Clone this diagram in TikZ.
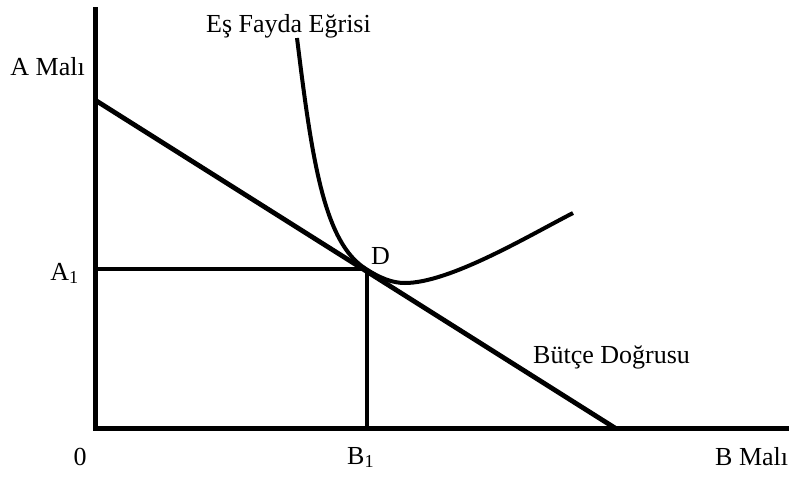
\documentclass[tikz,border=0pt]{standalone}
\usepackage{fontspec}
\setmainfont{Liberation Serif}
\begin{document}
\begin{tikzpicture}[x=1pt,y=-1pt,
  axisline/.style={line width=5pt,line join=miter},
  thick line/.style={line width=4.8pt},
  curveline/.style={line width=4pt},
  lbl/.style={inner sep=0pt,font=\fontsize{26}{30}\selectfont}]
\useasboundingbox (0,0) rectangle (789,477);
\coordinate (Ytop) at (95,7);
\coordinate (O) at (95,428);
\coordinate (Xend) at (789,428);
\coordinate (P) at (95,100);
\coordinate (Q) at (615,428);
\coordinate (D) at (366,269);
\coordinate (A1c) at (95,269);
\coordinate (B1c) at (367,428);
\coordinate (Dv) at (367,269);
\coordinate (C0) at (297,38);
\coordinate (Cmin) at (405,283);
\coordinate (Cend) at (573,213);
% axes
\draw[axisline] (Ytop) -- (O) -- (Xend);
% budget line
\draw[thick line] (P) -- (Q);
% projections
\draw[thick line] (A1c) -- (Dv);
\draw[thick line] (Dv) -- (B1c);
% indifference curve
\draw[curveline] (C0) .. controls (312,160) and (324,243) .. (D)
  .. controls (380,278) and (392,283) .. (Cmin)
  .. controls (450,283) and (530,235) .. (Cend);
% labels
\node[lbl,anchor=base] (lEF) at (288.5,32) {Eş Fayda Eğrisi};
\node[lbl,anchor=base east] (lAM) at (85,75) {A Malı};
\node[lbl,anchor=base east] (lA1) at (79,280) {A\textsubscript{1}};
\node[lbl,anchor=base west] (lD) at (371,264) {D};
\node[lbl,anchor=base] (l0) at (80,465) {0};
\node[lbl,anchor=base west] (lB1) at (347,464) {B\textsubscript{1}};
\node[lbl,anchor=base west] (lBM) at (715,465) {B Malı};
\node[lbl,anchor=base west] (lBD) at (533,363) {Bütçe Doğrusu};
\end{tikzpicture}
\end{document}
